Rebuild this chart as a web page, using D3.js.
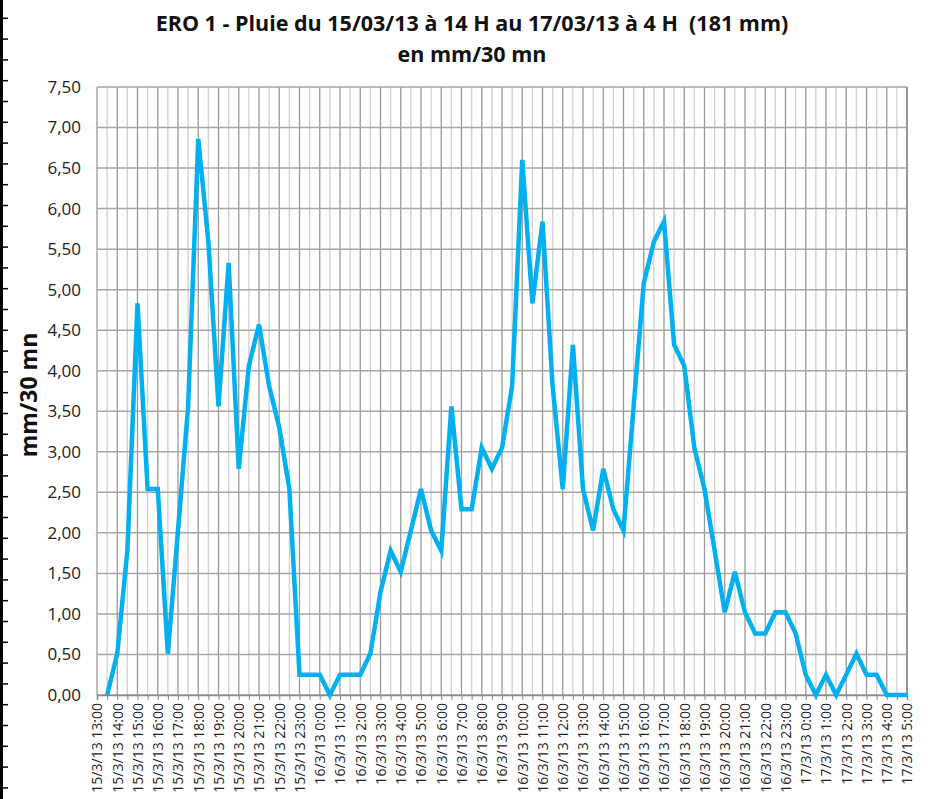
<!DOCTYPE html>
<html>
<head>
<meta charset="utf-8">
<script src="https://d3js.org/d3.v7.min.js"></script>
<style>
  body { margin: 0; background: #fff; }
  svg { display: block; font-family: "Open Sans", sans-serif; }
</style>
</head>
<body>
<div id="viz"></div>
<script>
// rain in mm per 30 min, one value per half hour from 15/3/13 13:30 to 17/3/13 5:00
var rain = [
  0, 0.51, 1.78, 4.83, 2.54, 2.54, 0.51, 2.03, 3.56, 6.86,
  5.59, 3.56, 5.33, 2.79, 4.06, 4.57, 3.81, 3.30, 2.54, 0.25,
  0.25, 0.25, 0, 0.25, 0.25, 0.25, 0.51, 1.27, 1.78, 1.52,
  2.03, 2.54, 2.03, 1.78, 3.56, 2.29, 2.29, 3.05, 2.79, 3.05,
  3.81, 6.60, 4.83, 5.84, 3.81, 2.54, 4.32, 2.54, 2.03, 2.79,
  2.29, 2.03, 3.56, 5.08, 5.59, 5.84, 4.32, 4.06, 3.05, 2.54,
  1.78, 1.02, 1.52, 1.02, 0.76, 0.76, 1.02, 1.02, 0.76, 0.25,
  0, 0.25, 0, 0.25, 0.51, 0.25, 0.25, 0, 0, 0
];

// hourly category labels (every second half-hour slot, starting at slot 0)
var hourLabels = [
  "15/3/13 13:00", "15/3/13 14:00", "15/3/13 15:00", "15/3/13 16:00", "15/3/13 17:00",
  "15/3/13 18:00", "15/3/13 19:00", "15/3/13 20:00", "15/3/13 21:00", "15/3/13 22:00",
  "15/3/13 23:00", "16/3/13 0:00", "16/3/13 1:00", "16/3/13 2:00", "16/3/13 3:00",
  "16/3/13 4:00", "16/3/13 5:00", "16/3/13 6:00", "16/3/13 7:00", "16/3/13 8:00",
  "16/3/13 9:00", "16/3/13 10:00", "16/3/13 11:00", "16/3/13 12:00", "16/3/13 13:00",
  "16/3/13 14:00", "16/3/13 15:00", "16/3/13 16:00", "16/3/13 17:00", "16/3/13 18:00",
  "16/3/13 19:00", "16/3/13 20:00", "16/3/13 21:00", "16/3/13 22:00", "16/3/13 23:00",
  "17/3/13 0:00", "17/3/13 1:00", "17/3/13 2:00", "17/3/13 3:00", "17/3/13 4:00",
  "17/3/13 5:00"
];

var yTicks = [0, 0.5, 1, 1.5, 2, 2.5, 3, 3.5, 4, 4.5, 5, 5.5, 6, 6.5, 7, 7.5];

var width = 939, height = 799;
var plotL = 97, plotR = 907, plotT = 87, plotB = 695;
var nSlots = rain.length;   // 80 half-hour slots

var svg = d3.select("#viz").append("svg")
  .attr("width", width).attr("height", height);

var x = d3.scaleLinear().domain([0, nSlots]).range([plotL, plotR]);
var y = d3.scaleLinear().domain([0, 7.5]).range([plotB, plotT]);

var fr = d3.formatLocale({decimal: ",", thousands: " ", grouping: [3], currency: ["", "€"]});
var fmt = fr.format(".2f");

// little ruler on the left edge of the sheet
svg.append("line")
  .attr("x1", 1.5).attr("x2", 1.5).attr("y1", 0).attr("y2", height)
  .attr("stroke", "#000").attr("stroke-width", 3);
svg.selectAll(".ruler").data(d3.range(18.3, height, 20.8)).enter()
  .append("line")
  .attr("x1", 0).attr("x2", 8)
  .attr("y1", function(d) { return d; }).attr("y2", function(d) { return d; })
  .attr("stroke", "#000").attr("stroke-width", 1.5);

// vertical grid: light at half hours, darker at hours
var slots = d3.range(0, nSlots + 1);
svg.append("g").selectAll("line").data(slots).enter()
  .append("line")
  .attr("x1", function(d) { return x(d); }).attr("x2", function(d) { return x(d); })
  .attr("y1", plotT).attr("y2", plotB)
  .attr("stroke", function(d) { return d % 2 === 0 ? "#999" : "#d0d0d0"; })
  .attr("stroke-width", function(d) { return d === nSlots ? 2 : 1.3; });

// horizontal grid
svg.append("g").selectAll("line").data(yTicks).enter()
  .append("line")
  .attr("x1", plotL).attr("x2", plotR)
  .attr("y1", function(d) { return y(d); }).attr("y2", function(d) { return y(d); })
  .attr("stroke", "#a6a6a6").attr("stroke-width", 1.5);

// y axis labels
var yAxis = svg.append("g")
  .attr("transform", "translate(" + plotL + ",0)")
  .call(d3.axisLeft(y).tickValues(yTicks).tickFormat(fmt).tickSize(0).tickPadding(16));
yAxis.select(".domain").remove();
yAxis.selectAll("text")
  .attr("font-family", "Open Sans").attr("font-size", 17).attr("fill", "#222");

// x axis with half hour ticks, hourly labels
var xAxis = svg.append("g")
  .attr("transform", "translate(0," + plotB + ")")
  .call(d3.axisBottom(x).tickValues(slots).tickSize(5)
    .tickFormat(function(d) { return d % 2 === 0 ? hourLabels[d / 2] : ""; }));
xAxis.select(".domain").attr("stroke", "#888").attr("stroke-width", 1.5);
xAxis.selectAll(".tick line").attr("stroke", "#888");
xAxis.selectAll("text")
  .attr("font-family", "Open Sans").attr("font-size", 14).attr("fill", "#222")
  .attr("text-anchor", "end")
  .attr("transform", "rotate(-90)")
  .attr("x", -8).attr("y", 0).attr("dy", "0.35em");

// rain line, value i is at slot i+1 (end of the half hour)
var line = d3.line()
  .x(function(d, i) { return x(i + 1); })
  .y(function(d) { return y(d); });
svg.append("path")
  .datum(rain)
  .attr("d", line)
  .attr("fill", "none")
  .attr("stroke", "#00b0f0")
  .attr("stroke-width", 4.5)
  .attr("stroke-linejoin", "miter");

// titles
svg.append("text")
  .attr("x", 472).attr("y", 31)
  .attr("text-anchor", "middle")
  .attr("font-weight", "bold").attr("font-size", 21.5).attr("fill", "#111")
  .attr("xml:space", "preserve")
  .text("ERO 1 - Pluie du 15/03/13 à 14 H au 17/03/13 à 4 H  (181 mm)");
svg.append("text")
  .attr("x", 472).attr("y", 62)
  .attr("text-anchor", "middle")
  .attr("font-weight", "bold").attr("font-size", 21.5).attr("fill", "#111")
  .text("en mm/30 mn");

svg.append("text")
  .attr("transform", "translate(37,395) rotate(-90)")
  .attr("text-anchor", "middle")
  .attr("font-weight", "bold").attr("font-size", 23).attr("fill", "#111")
  .text("mm/30 mn");
</script>
</body>
</html>
